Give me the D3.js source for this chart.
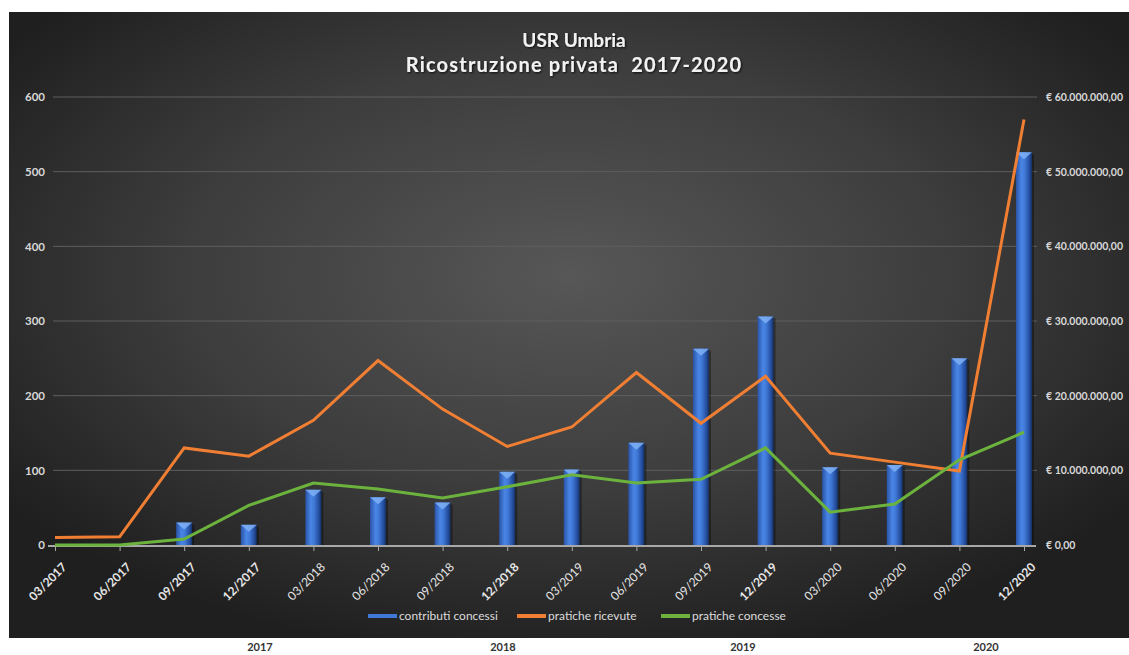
<!DOCTYPE html>
<html><head><meta charset="utf-8">
<script src="https://cdn.jsdelivr.net/npm/d3@7"></script>
<style>html,body{margin:0;padding:0;background:#fff}svg{display:block}</style>
</head><body>
<svg id="c" width="1129" height="655"></svg>
<script>
const categories = ["03/2017","06/2017","09/2017","12/2017","03/2018","06/2018","09/2018","12/2018","03/2019","06/2019","09/2019","12/2019","03/2020","06/2020","09/2020","12/2020"];
const contributiConcessi = [0,0,3000000,2700000,7400000,6400000,5700000,9800000,10100000,13700000,26300000,30600000,10400000,10700000,25000000,52600000];
const praticheRicevute = [10,11,130,119,167,247,182,132,158,231,163,226,123,111,99,570];
const praticheConcesse = [0,0,8,53,83,75,63,78,94,83,88,130,44,55,114,151];
const leftTicks = [0,100,200,300,400,500,600];
const rightTicks = [0,10000000,20000000,30000000,40000000,50000000,60000000];
const years = ["2017","2018","2019","2020"];
const yearPos = [260,503,743,986];
const legendLabels = ["contributi concessi","pratiche ricevute","pratiche concesse"];
const titleLines = ["USR Umbria","Ricostruzione privata  2017-2020"];

const svg = d3.select("#c");
const FONT = "Lato, 'Open Sans', sans-serif";
const defs = svg.append("defs");
const rg = defs.append("radialGradient").attr("id","bg").attr("cx","0.5").attr("cy","0.42").attr("r","0.62");
rg.append("stop").attr("offset","0").attr("stop-color","#575757");
rg.append("stop").attr("offset","0.55").attr("stop-color","#3d3d3d");
rg.append("stop").attr("offset","1").attr("stop-color","#1f1f1f");
const bgr = defs.append("linearGradient").attr("id","bar").attr("x1","0").attr("x2","1").attr("y1","0").attr("y2","0");
[["0","#2a54a8"],["0.35","#4a86e6"],["0.55","#3f78d6"],["0.85","#244c9c"],["1","#14305f"]].forEach(s=>bgr.append("stop").attr("offset",s[0]).attr("stop-color",s[1]));
const sh = defs.append("filter").attr("id","glow").attr("x","-10%").attr("y","-30%").attr("width","120%").attr("height","160%");
sh.append("feGaussianBlur").attr("in","SourceAlpha").attr("stdDeviation","1.2").attr("result","b");
sh.append("feOffset").attr("in","b").attr("dx","0.8").attr("dy","0.8").attr("result","o");
sh.append("feFlood").attr("flood-color","#000").attr("flood-opacity","0.8");
sh.append("feComposite").attr("in2","o").attr("operator","in").attr("result","s");
const m = sh.append("feMerge"); m.append("feMergeNode").attr("in","s"); m.append("feMergeNode").attr("in","SourceGraphic");

svg.append("rect").attr("x",9).attr("y",12).attr("width",1120).attr("height",626).attr("fill","url(#bg)");

const x = d3.scalePoint().domain(categories).range([55,1024]);
const yL = d3.scaleLinear().domain([0,600]).range([545,97]);
const yR = d3.scaleLinear().domain([0,60000000]).range([545,97]);

// gridlines
svg.append("g").selectAll("line").data(leftTicks.filter(d=>d>0)).join("line")
  .attr("x1",53).attr("x2",1037).attr("y1",d=>yL(d)).attr("y2",d=>yL(d))
  .attr("stroke","#5e5e5e").attr("stroke-width",1);

// left axis
const gl = svg.append("g").attr("transform","translate(48,0)")
  .call(d3.axisLeft(yL).tickValues(leftTicks).tickSize(0).tickPadding(3).tickFormat(d3.format("d")));
gl.select(".domain").remove();
gl.selectAll("text").attr("fill","#d8d8d8").attr("font-size",11.5).attr("font-weight","bold").attr("font-family",FONT);

// right axis
const itLocale = d3.formatLocale({decimal:",",thousands:".",grouping:[3],currency:["€ ",""]});
const gr = svg.append("g").attr("transform","translate(1043,0)")
  .call(d3.axisRight(yR).tickValues(rightTicks).tickSize(0).tickPadding(3).tickFormat(itLocale.format("$,.2f")));
gr.select(".domain").remove();
gr.selectAll("text").attr("fill","#d8d8d8").attr("font-size",10.5).attr("font-weight","bold").attr("font-family",FONT);

// bars
const bw = 16;
const bars = svg.append("g").selectAll("g").data(categories.map((c,i)=>({c,v:contributiConcessi[i]})).filter(d=>d.v>0)).join("g");
bars.append("rect").attr("x",d=>x(d.c)-bw/2+2).attr("y",d=>yR(d.v)+2).attr("width",bw).attr("height",d=>yR(0)-yR(d.v)-2).attr("fill","#000").attr("opacity",0.35);
bars.append("rect").attr("x",d=>x(d.c)-bw/2).attr("y",d=>yR(d.v)).attr("width",bw).attr("height",d=>yR(0)-yR(d.v)).attr("fill","url(#bar)");
bars.append("path").attr("d",d=>{const cx=x(d.c),t=yR(d.v);return `M${cx-bw/2},${t} L${cx+bw/2},${t} L${cx},${t+7} Z`;}).attr("fill","#7fb0f5").attr("opacity",0.85);

// x axis
svg.append("line").attr("x1",48).attr("x2",1036).attr("y1",546).attr("y2",546).attr("stroke","#a8a8a8").attr("stroke-width",2);
const gx = svg.append("g").attr("transform","translate(0,546)")
  .call(d3.axisBottom(x).tickSize(5).tickPadding(2));
gx.select(".domain").remove();
gx.selectAll(".tick line").attr("stroke","#a8a8a8");
gx.selectAll("text").attr("fill","#e6e6e6").attr("font-size",12).attr("font-family",FONT)
  .attr("font-weight",d=>(d.startsWith("12/")||d.endsWith("2017"))?"bold":"normal")
  .attr("text-anchor","end").attr("dy","0.35em")
  .attr("transform","translate(4,14) rotate(-45)");

// lines
const lineGen = arr => d3.line().x((d,i)=>x(categories[i])).y(d=>yL(d))(arr);
svg.append("path").attr("d",lineGen(praticheRicevute)).attr("fill","none").attr("stroke","#f07f33").attr("stroke-width",3).attr("stroke-linejoin","miter");
svg.append("path").attr("d",lineGen(praticheConcesse)).attr("fill","none").attr("stroke","#6cb33e").attr("stroke-width",3).attr("stroke-linejoin","miter");

// title
svg.append("g").selectAll("text").data(titleLines).join("text")
  .attr("x",574).attr("y",(d,i)=>47+i*25).attr("text-anchor","middle")
  .style("white-space","pre")
  .attr("font-family",FONT).attr("font-weight","bold").attr("font-size",(d,i)=>i?20:19)
  .attr("fill","#f2f2f2").attr("filter","url(#glow)").attr("letter-spacing",(d,i)=>i?1.2:0).text(d=>d);

// legend
const legColors = ["#3f78d6","#f07f33","#6cb33e"];
const legX = [368,517,661];
const lg = svg.append("g").selectAll("g").data(legendLabels).join("g").attr("transform",(d,i)=>`translate(${legX[i]},616)`);
lg.append("rect").attr("x",0).attr("y",-2).attr("width",29).attr("height",4).attr("fill",(d,i)=>legColors[i]);
lg.append("text").attr("x",31).attr("y",0).attr("dy","0.35em").attr("font-family",FONT).attr("font-size",12).attr("fill","#dcdcdc").text(d=>d);

// year labels
svg.append("g").selectAll("text").data(years).join("text")
  .attr("x",(d,i)=>yearPos[i]).attr("y",651).attr("text-anchor","middle").attr("font-family",FONT)
  .attr("font-weight","bold").attr("font-size",11).attr("fill","#333").text(d=>d);
</script>
</body></html>
